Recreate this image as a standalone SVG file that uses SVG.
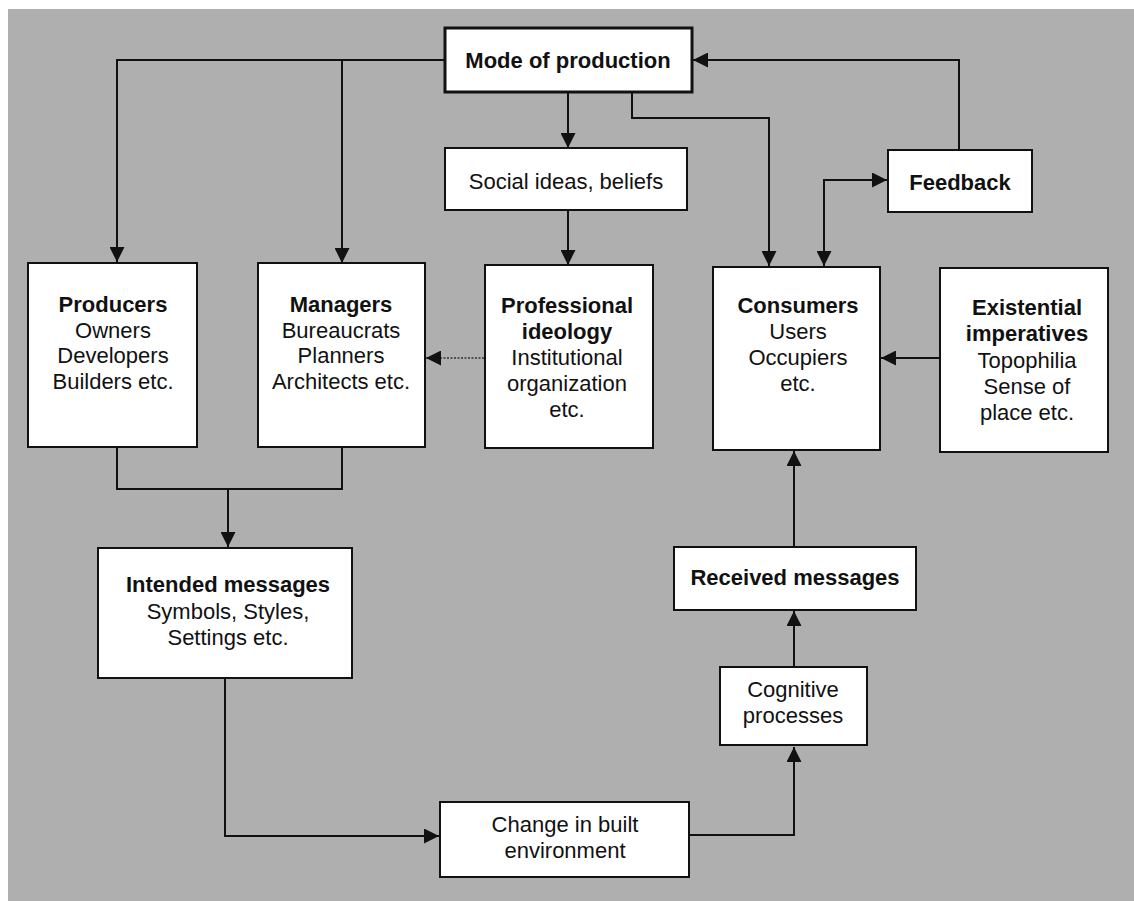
<svg xmlns="http://www.w3.org/2000/svg" width="1134" height="901" viewBox="0 0 1134 901">
<style>
.box{fill:#fff;stroke:#111;stroke-width:2}
.thick{stroke-width:3}
.t{font-family:"Liberation Sans",Arial,sans-serif;font-size:22px;fill:#111;text-anchor:middle}
.b{font-weight:bold}
.c{fill:none;stroke:#111;stroke-width:2}
.d{fill:none;stroke:#333;stroke-width:1.5;stroke-dasharray:2 1.5}
</style>
<defs>
<marker id="ah" markerUnits="userSpaceOnUse" markerWidth="15" markerHeight="15" refX="15" refY="7.5" orient="auto-start-reverse">
<path d="M0,0 L15,7.5 L0,15 z" fill="#111"/>
</marker>
</defs>
<rect x="0" y="0" width="1134" height="901" fill="#fff"/>
<rect x="8" y="9" width="1126" height="892" fill="#afafaf"/>
<g id="connectors">
<path class="c" d="M445,60 H117 V262" marker-end="url(#ah)"/>
<path class="c" d="M342,60 V263" marker-end="url(#ah)"/>
<path class="c" d="M568,92 V148" marker-end="url(#ah)"/>
<path class="c" d="M568,210 V265" marker-end="url(#ah)"/>
<path class="c" d="M632,92 V118 H769 V266" marker-end="url(#ah)"/>
<path class="c" d="M959,150 V60 H693" marker-end="url(#ah)"/>
<path class="c" d="M824,266 V180 H887" marker-start="url(#ah)" marker-end="url(#ah)"/>
<path class="d" d="M484,358 H426" marker-end="url(#ah)"/>
<path class="c" d="M940,358 H881" marker-end="url(#ah)"/>
<path class="c" d="M117,447 V489 H342 V447"/>
<path class="c" d="M228,489 V547" marker-end="url(#ah)"/>
<path class="c" d="M225,678 V836 H439" marker-end="url(#ah)"/>
<path class="c" d="M689,835 H794 V747" marker-end="url(#ah)"/>
<path class="c" d="M794,667 V611" marker-end="url(#ah)"/>
<path class="c" d="M794,547 V451" marker-end="url(#ah)"/>
</g>
<g id="mode">
<rect class="box thick" x="445" y="28" width="247" height="64"/>
<text class="t b" x="568" y="68">Mode of production</text>
</g>
<g id="social">
<rect class="box" x="445" y="148" width="242" height="62"/>
<text class="t" x="566" y="189">Social ideas, beliefs</text>
</g>
<g id="feedback">
<rect class="box" x="888" y="150" width="144" height="62"/>
<text class="t b" x="960" y="190">Feedback</text>
</g>
<g id="producers">
<rect class="box" x="28" y="263" width="169" height="184"/>
<text class="t" x="113" y="312"><tspan class="b">Producers</tspan><tspan x="113" dy="25.5">Owners</tspan><tspan x="113" dy="25.5">Developers</tspan><tspan x="113" dy="25.5">Builders etc.</tspan></text>
</g>
<g id="managers">
<rect class="box" x="258" y="263" width="167" height="184"/>
<text class="t" x="341" y="312"><tspan class="b">Managers</tspan><tspan x="341" dy="25.5">Bureaucrats</tspan><tspan x="341" dy="25.5">Planners</tspan><tspan x="341" dy="25.5">Architects etc.</tspan></text>
</g>
<g id="professional">
<rect class="box" x="485" y="265" width="168" height="183"/>
<text class="t" x="567" y="313"><tspan class="b">Professional</tspan><tspan class="b" x="567" dy="25.5">ideology</tspan><tspan x="567" dy="26">Institutional</tspan><tspan x="567" dy="26">organization</tspan><tspan x="567" dy="26">etc.</tspan></text>
</g>
<g id="consumers">
<rect class="box" x="713" y="267" width="167" height="183"/>
<text class="t" x="798" y="313"><tspan class="b">Consumers</tspan><tspan x="798" dy="26">Users</tspan><tspan x="798" dy="26">Occupiers</tspan><tspan x="798" dy="26">etc.</tspan></text>
</g>
<g id="existential">
<rect class="box" x="940" y="268" width="168" height="184"/>
<text class="t" x="1027" y="315"><tspan class="b">Existential</tspan><tspan class="b" x="1027" dy="25.5">imperatives</tspan><tspan x="1027" dy="27">Topophilia</tspan><tspan x="1027" dy="26">Sense of</tspan><tspan x="1027" dy="26">place etc.</tspan></text>
</g>
<g id="intended">
<rect class="box" x="98" y="548" width="254" height="130"/>
<text class="t" x="228" y="592"><tspan class="b">Intended messages</tspan><tspan x="228" dy="26.5">Symbols, Styles,</tspan><tspan x="228" dy="26.5">Settings etc.</tspan></text>
</g>
<g id="received">
<rect class="box" x="674" y="547" width="242" height="63"/>
<text class="t b" x="795" y="585">Received messages</text>
</g>
<g id="cognitive">
<rect class="box" x="720" y="667" width="147" height="78"/>
<text class="t" x="793" y="697"><tspan>Cognitive</tspan><tspan x="793" dy="26">processes</tspan></text>
</g>
<g id="change">
<rect class="box" x="440" y="802" width="249" height="75"/>
<text class="t" x="565" y="832"><tspan>Change in built</tspan><tspan x="565" dy="26">environment</tspan></text>
</g>
</svg>
